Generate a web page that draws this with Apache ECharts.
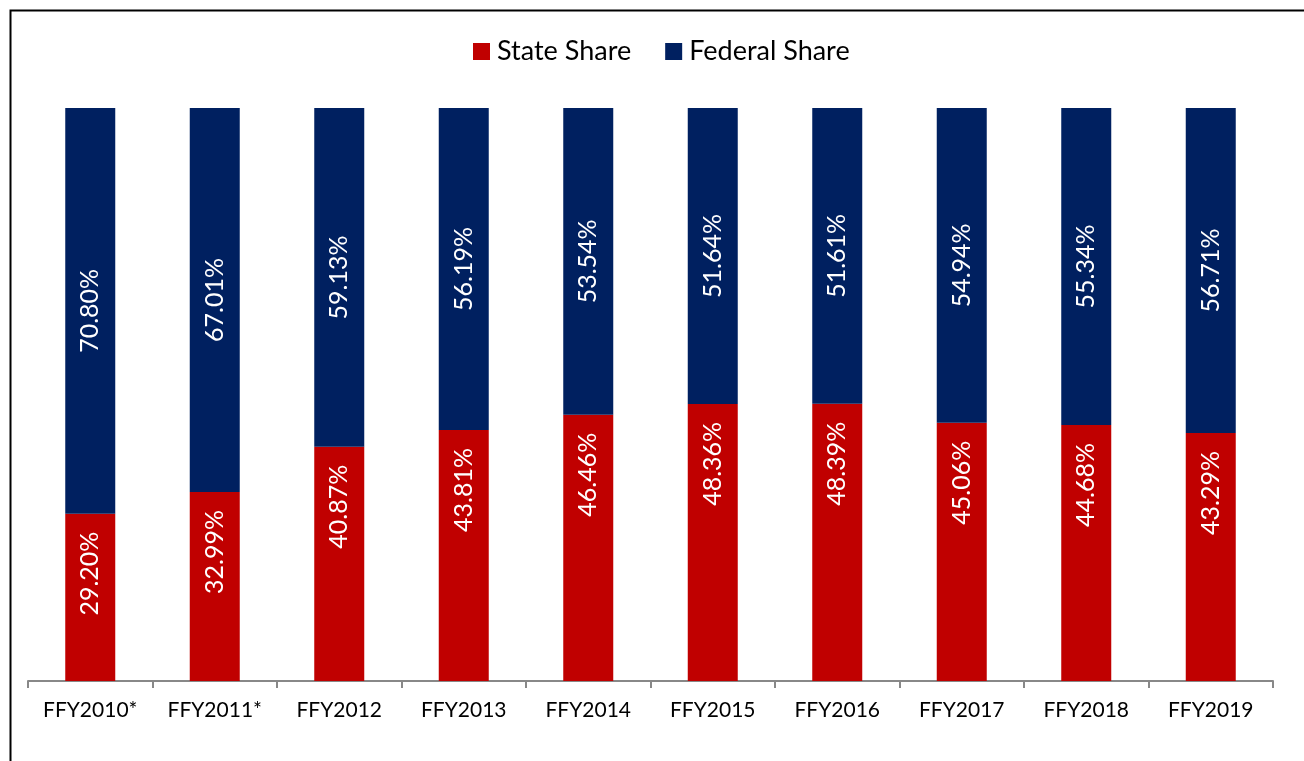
<!DOCTYPE html>
<html>
<head>
<meta charset="utf-8">
<script src="https://cdn.jsdelivr.net/npm/echarts@6/dist/echarts.min.js"></script>
<style>html,body{margin:0;padding:0;background:#fff;}#c{width:1304px;height:761px;}</style>
</head>
<body>
<div id="c"></div>
<script>
const categories = ['FFY2010*','FFY2011*','FFY2012','FFY2013','FFY2014','FFY2015','FFY2016','FFY2017','FFY2018','FFY2019'];
const stateShare = [29.20,32.99,40.87,43.81,46.46,48.36,48.39,45.06,44.68,43.29];
const federalShare = [70.80,67.01,59.13,56.19,53.54,51.64,51.61,54.94,55.34,56.71];

const FONT = 'Lato';
const chart = echarts.init(document.getElementById('c'), null, {renderer:'canvas'});
chart.setOption({
  animation: false,
  backgroundColor: '#fff',
  textStyle: {fontFamily: FONT},
  graphic: [{
    type: 'rect', left: 8, top: 8, silent: true,
    shape: {x: 0, y: 0, width: 1400, height: 800},
    style: {fill: 'none', stroke: '#000', lineWidth: 2}
  }],
  legend: {
    top: 33, left: 468,
    itemWidth: 17, itemHeight: 17, itemGap: 34,
    icon: 'rect',
    textStyle: {fontFamily: FONT, fontSize: 27, color: '#000', padding: [0,0,0,2]},
    data: ['State Share','Federal Share']
  },
  grid: {left: 28, right: 31, top: 108, bottom: 80, containLabel: false},
  xAxis: {
    type: 'category', data: categories,
    axisLine: {lineStyle: {color: '#888', width: 2}},
    axisTick: {show: true, length: 7, lineStyle: {color: '#888', width: 2}},
    axisLabel: {fontFamily: FONT, fontSize: 21, color: '#000', margin: 19}
  },
  yAxis: {type: 'value', min: 0, max: 100, show: false, splitLine: {show: false}},
  series: [
    {
      name: 'State Share', type: 'bar', stack: 'a', data: stateShare, barWidth: 50,
      itemStyle: {color: '#C00000'},
      label: {
        show: true, position: 'insideTop', distance: 18, rotate: 90,
        align: 'right', verticalAlign: 'middle',
        color: '#fff', fontFamily: FONT, fontSize: 25,
        formatter: p => p.value.toFixed(2) + '%'
      }
    },
    {
      name: 'Federal Share', type: 'bar', stack: 'a', data: federalShare, barWidth: 50,
      itemStyle: {color: '#002060'},
      label: {
        show: true, position: 'inside', rotate: 90,
        align: 'center', verticalAlign: 'middle',
        color: '#fff', fontFamily: FONT, fontSize: 25,
        formatter: p => p.value.toFixed(2) + '%'
      }
    }
  ]
});
</script>
</body>
</html>
